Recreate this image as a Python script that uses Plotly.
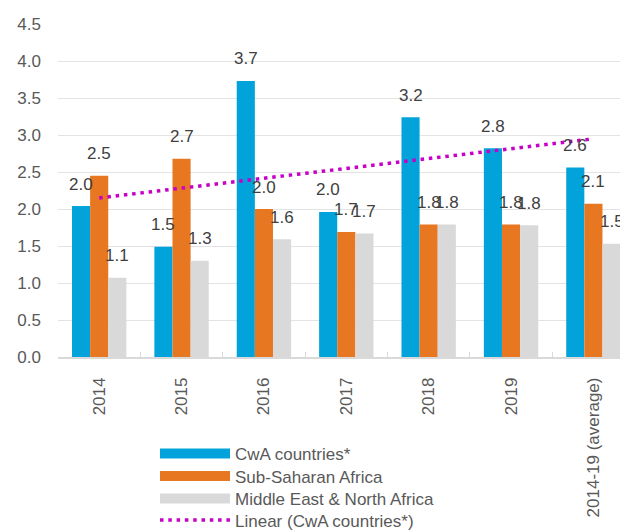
import numpy as np
import plotly.graph_objects as go

categories = ["2014", "2015", "2016", "2017", "2018", "2019", "2014-19 (average)"]
cwa = [2.04, 1.49, 3.73, 1.96, 3.24, 2.82, 2.56]
ssa = [2.45, 2.68, 2.00, 1.69, 1.79, 1.79, 2.07]
mena = [1.07, 1.30, 1.59, 1.67, 1.79, 1.78, 1.53]
series_names = ["CwA countries*", "Sub-Saharan Africa", "Middle East & North Africa"]
trend_name = "Linear (CwA countries*)"
y_ticks = [0.0, 0.5, 1.0, 1.5, 2.0, 2.5, 3.0, 3.5, 4.0, 4.5]

colors = ["#02A3DA", "#E87722", "#D9D9D9"]
trend_color = "#C800C8"
FONT = "Liberation Sans, Arial, sans-serif"
BARGAP = 0.34

# figure geometry (page has an 8px body margin)
W, H = 620, 523
ML, MT, MB = 50, 16, 174
PW, PH = W - ML, H - MT - MB

fig = go.Figure()
all_series = [cwa, ssa, mena]
for name, vals, col in zip(series_names, all_series, colors):
    fig.add_trace(go.Bar(x=categories, y=vals, name=name, marker=dict(color=col, line=dict(width=0)),
                         showlegend=False))

# trendline (least-squares fit of the CwA series, as Excel's linear trendline)
xi = np.arange(1, len(cwa) + 1)
slope, intercept = np.polyfit(xi, cwa, 1)
trend = slope * xi + intercept
fig.add_trace(go.Scatter(x=categories, y=trend, mode="lines", showlegend=False,
                         line=dict(color=trend_color, width=3.5, dash="3.5px,4.8px")))

# legend entries (wide swatches), one legend per row for exact spacing
legend_ids = ["legend", "legend2", "legend3", "legend4"]
for name, col, lid in zip(series_names, colors, legend_ids):
    fig.add_trace(go.Scatter(x=[None], y=[None], mode="lines", name=name, legend=lid,
                             line=dict(color=col, width=11)))
fig.add_trace(go.Scatter(x=[None], y=[None], mode="lines", name=trend_name, legend=legend_ids[3],
                         line=dict(color=trend_color, width=3.5, dash="3.5px,4.8px")))

# data labels
w = (1 - BARGAP) / 3
for k, vals in enumerate(all_series):
    for i, v in enumerate(vals):
        fig.add_annotation(x=i + (k - 1) * w, y=v, text=f"{v:.1f}", showarrow=False,
                           xref="x", yref="y", yanchor="middle", yshift=22,
                           font=dict(family=FONT, size=17, color="#404040"))

row_centers = [446, 468.5, 491, 512.5]  # figure px
leg_x = (147 - ML) / PW
legends = {}
for lid, rc in zip(legend_ids, row_centers):
    legends[lid] = dict(x=leg_x, y=(MT + PH - rc) / PH, xanchor="left", yanchor="middle",
                        itemwidth=70, font=dict(family=FONT, size=17, color="#595959"),
                        bgcolor="rgba(0,0,0,0)")

fig.update_layout(
    width=W, height=H,
    margin=dict(l=ML, r=0, t=MT, b=MB, autoexpand=False),
    paper_bgcolor="white", plot_bgcolor="white",
    barmode="group", bargap=BARGAP, bargroupgap=0,
    font=dict(family=FONT, size=17, color="#595959"),
    xaxis=dict(type="category", range=[-0.5, 6.42], showgrid=False,
               showline=True, linecolor="#D9D9D9", linewidth=1.5,
               ticks="inside", tickson="boundaries", ticklen=5, tickcolor="#D9D9D9",
               tickangle=-90, ticklabelstandoff=12,
               tickfont=dict(family=FONT, size=17, color="#595959")),
    yaxis=dict(range=[0, 4.5], tickvals=y_ticks, ticktext=[f"{t:.1f}" for t in y_ticks],
               showgrid=True, gridcolor="#E3E3E3", gridwidth=1, zeroline=False,
               showline=False, ticks="", ticklabelstandoff=16,
               tickfont=dict(family=FONT, size=17, color="#595959")),
    **legends,
)

fig.write_html("out.html")
